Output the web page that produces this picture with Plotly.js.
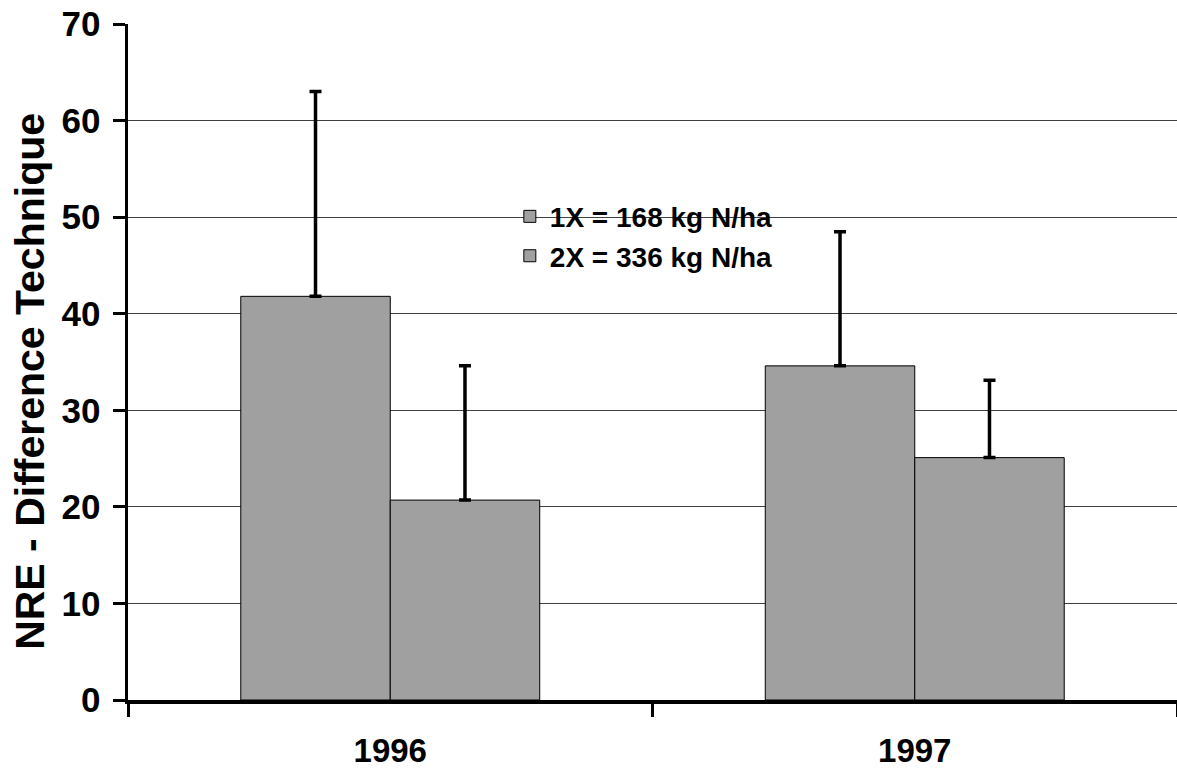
<!DOCTYPE html>
<html>
<head>
<meta charset="utf-8">
<script src="https://cdn.plot.ly/plotly-3.0.1.min.js"></script>
<style>
  html, body { margin: 0; padding: 0; background: #fff; }
  #chart { width: 1177px; height: 772px; }
</style>
</head>
<body>
<div id="chart"></div>
<script>
const years = ["1996", "1997"];
const seriesNames = ["1X = 168 kg N/ha", "2X = 336 kg N/ha"];
const nre1X = [41.8, 34.6];
const nre2X = [20.7, 25.1];
const err1X = [21.2, 13.9];
const err2X = [13.9, 8.0];
const yTicks = [0, 10, 20, 30, 40, 50, 60, 70];
const yTitle = "NRE - Difference Technique";

const FONT = "Liberation Sans, Arial, Helvetica, sans-serif";
const barColor = "#a0a0a0";

function barTrace(name, values, errors, group) {
  return {
    type: "bar",
    name: name,
    x: years,
    y: values,
    legendgroup: group,
    marker: { color: barColor, line: { color: "#000", width: 1 } },
    error_y: {
      type: "data",
      symmetric: false,
      array: errors,
      arrayminus: errors.map(() => 0),
      color: "#000",
      thickness: 3.5,
      width: 6
    },
    hoverinfo: "x+y"
  };
}

const data = [
  barTrace(seriesNames[0], nre1X, err1X, "a"),
  barTrace(seriesNames[1], nre2X, err2X, "b")
];

const layout = {
  width: 1177,
  height: 772,
  paper_bgcolor: "#fff",
  plot_bgcolor: "#fff",
  margin: { l: 128, r: 0, t: 24, b: 72, pad: 0 },
  barmode: "group",
  bargap: 0.43,
  bargroupgap: 0,
  font: { family: FONT, color: "#000", size: 34, weight: "bold" },
  showlegend: true,
  legend: {
    x: 0.364,
    y: 0.752,
    xanchor: "left",
    yanchor: "top",
    bgcolor: "rgba(255,255,255,0)",
    borderwidth: 0,
    traceorder: "grouped",
    tracegroupgap: 0,
    font: { family: FONT, size: 28, color: "#000", weight: "bold" }
  },
  xaxis: {
    type: "category",
    showgrid: false,
    showline: true,
    linecolor: "#000",
    linewidth: 4,
    ticks: "outside",
    tickson: "boundaries",
    ticklen: 13,
    tickwidth: 3,
    tickcolor: "#000",
    ticklabelstandoff: 18,
    tickfont: { family: FONT, size: 33, color: "#000", weight: "bold" },
    zeroline: false,
    fixedrange: true
  },
  yaxis: {
    range: [0, 70],
    tickvals: yTicks,
    ticktext: yTicks.map(String),
    showgrid: true,
    gridcolor: "#404040",
    gridwidth: 1,
    showline: true,
    linecolor: "#000",
    linewidth: 3.5,
    ticks: "outside",
    ticklen: 12,
    tickwidth: 3,
    tickcolor: "#000",
    ticklabelstandoff: 5,
    tickfont: { family: FONT, size: 35, color: "#000", weight: "bold" },
    zeroline: false,
    fixedrange: true
  },
  annotations: [
    {
      text: yTitle,
      xref: "paper",
      yref: "paper",
      x: -0.0935,
      y: 0.472,
      xanchor: "center",
      yanchor: "middle",
      textangle: -90,
      showarrow: false,
      font: { family: FONT, size: 41, color: "#000", weight: "bold" }
    }
  ],
  shapes: [
    {
      type: "rect",
      layer: "between",
      xref: "paper",
      yref: "y",
      x0: 0.003,
      x1: 0.659,
      y0: 49.3,
      y1: 50.7,
      fillcolor: "#fff",
      line: { width: 0 }
    }
  ]
};

Plotly.newPlot("chart", data, layout, { displayModeBar: false, staticPlot: true });
</script>
</body>
</html>
